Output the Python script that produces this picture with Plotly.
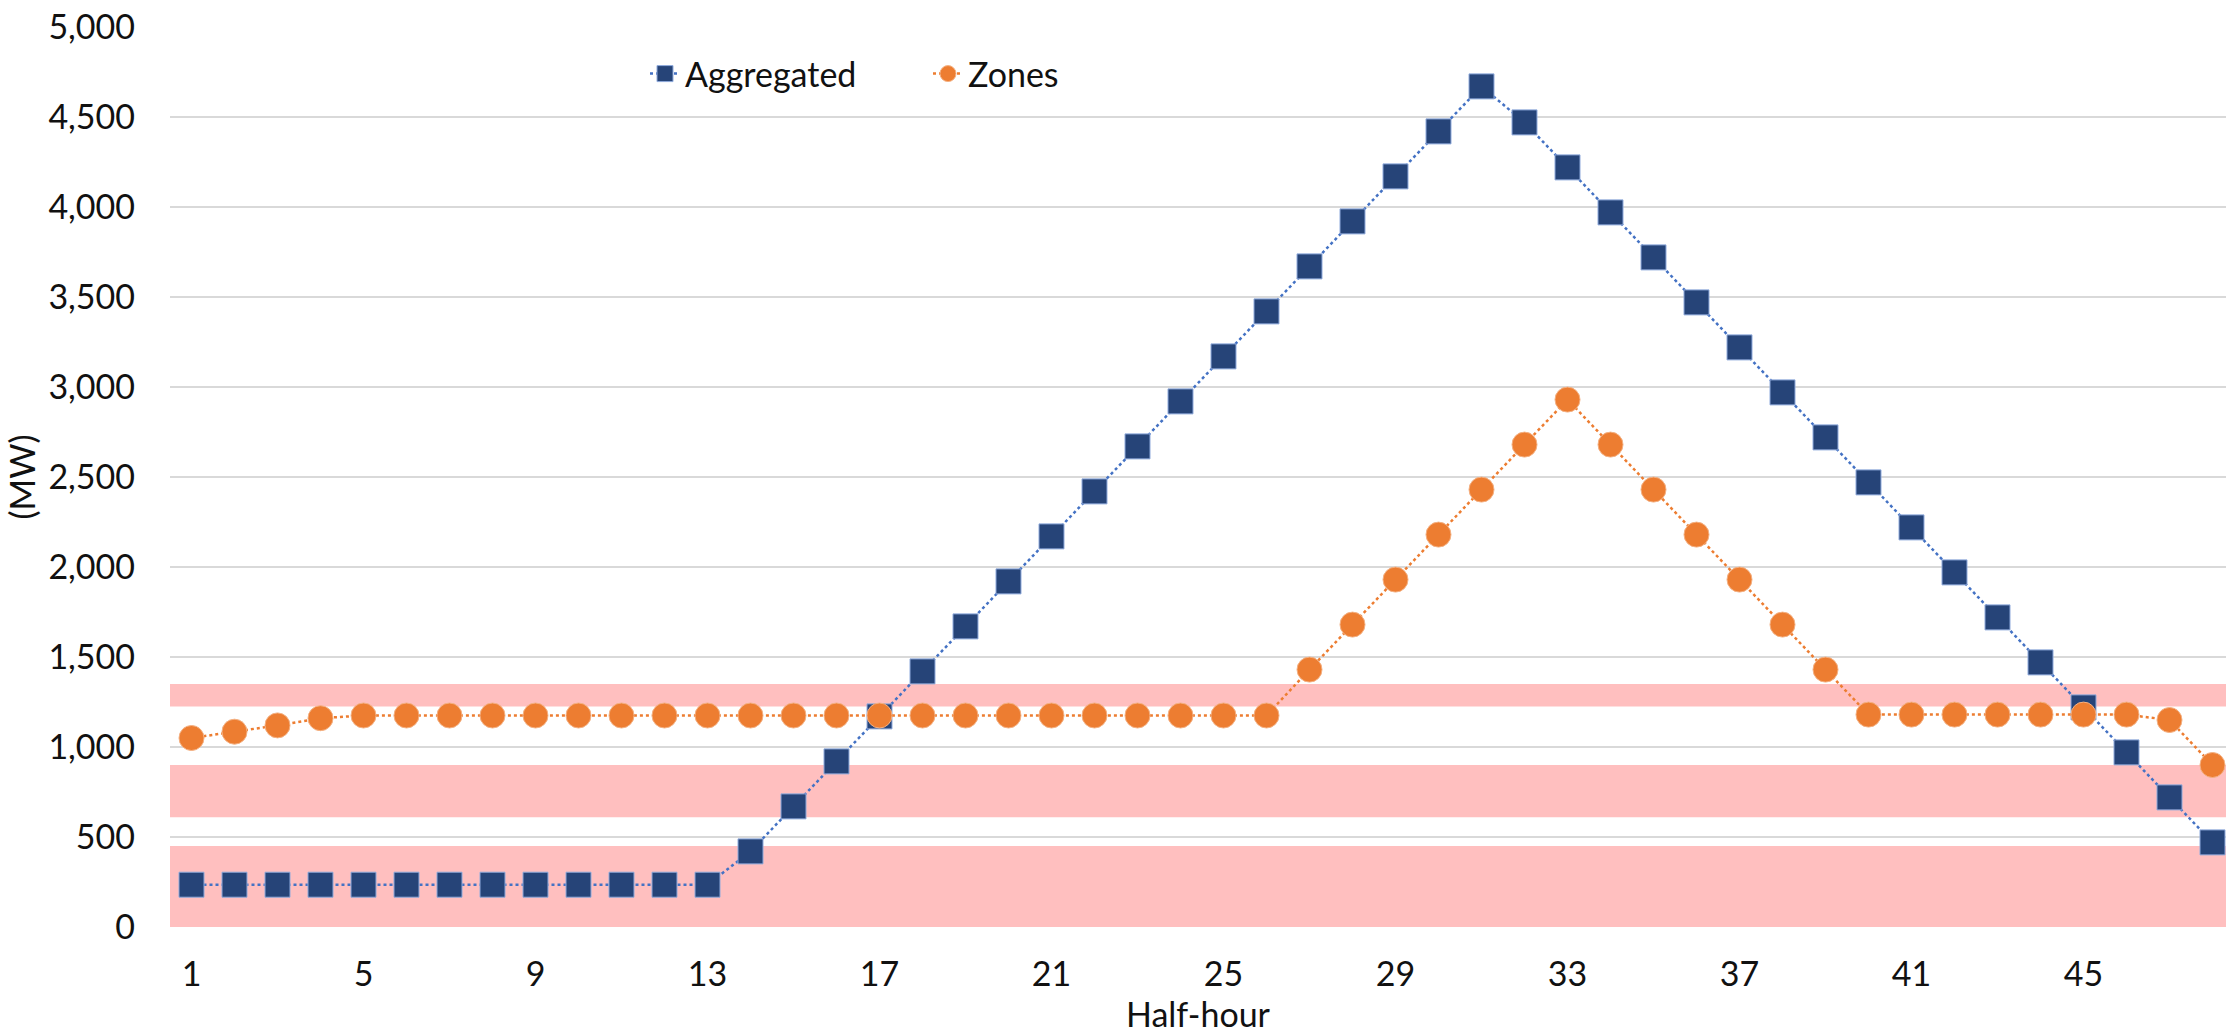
import plotly.graph_objects as go

half_hours = list(range(1, 49))
aggregated = [235]*13 + [420, 670, 920, 1170, 1420, 1670, 1920, 2170, 2420, 2670, 2920,
              3170, 3420, 3670, 3920, 4170, 4420, 4670, 4470, 4220, 3970, 3720, 3470,
              3220, 2970, 2720, 2470, 2220, 1970, 1720, 1470, 1220, 970, 720, 470]
zones = [1050, 1085, 1120, 1160] + [1175]*22 + [1430, 1680, 1930, 2180, 2430, 2680, 2930,
         2680, 2430, 2180, 1930, 1680, 1430] + [1180]*7 + [1150, 900]
bands = [(0, 450), (610, 900), (1225, 1350)]
x_ticks = list(range(1, 49, 4))
y_ticks = list(range(0, 5001, 500))

FONT = "Lato"
FS = 34
W, H = 2226, 1036
ML, MR, MT, MB = 170, 0, 27, 109
cat_px = 43.0
x_max = 0.5 + (W - ML - MR) / cat_px

fig = go.Figure()
fig.add_trace(go.Scatter(
    x=half_hours, y=aggregated, name="Aggregated", mode="lines+markers",
    line=dict(color="#4472C4", width=2.5, dash="dot"),
    marker=dict(symbol="square", size=25, color="#264478",
                line=dict(color="#8FAADC", width=1)),
))
fig.add_trace(go.Scatter(
    x=half_hours, y=zones, name="Zones", mode="lines+markers",
    line=dict(color="#ED7D31", width=2.5, dash="dot"),
    marker=dict(symbol="circle", size=25, color="#ED7D31",
                line=dict(color="#F4B183", width=1)),
))

for lo, hi in bands:
    fig.add_shape(type="rect", xref="paper", yref="y", x0=0, x1=1, y0=lo, y1=hi,
                  fillcolor="#FFBFBF", line=dict(width=0), layer="below")

fig.update_layout(
    width=W, height=H,
    margin=dict(l=ML, r=MR, t=MT, b=MB, pad=0),
    plot_bgcolor="white", paper_bgcolor="white",
    font=dict(family=FONT, size=FS, color="#111111"),
    showlegend=True,
    legend=dict(orientation="h", x=(645 - ML) / (W - ML - MR), xanchor="left",
                y=(H - MB - 74) / (H - MT - MB), yanchor="middle",
                bgcolor="rgba(0,0,0,0)", font=dict(family=FONT, size=FS, color="#111111"),
                itemwidth=30, entrywidth=238),
    xaxis=dict(range=[0.5, x_max], tickmode="array", tickvals=x_ticks,
               ticktext=[str(t) for t in x_ticks], showgrid=False, zeroline=False,
               showline=False, ticks="", ticklabelstandoff=24,
               title=dict(text="Half-hour", standoff=8, font=dict(family=FONT, size=FS))),
    yaxis=dict(range=[0, 5000], tickmode="array", tickvals=y_ticks,
               ticktext=[f"{v:,}" for v in y_ticks], showgrid=True, gridcolor="#D9D9D9",
               gridwidth=2, zeroline=False, showline=False, ticks="", ticklabelstandoff=34,
               title=dict(text="(MW)", standoff=2, font=dict(family=FONT, size=FS))),
)

fig.write_html("out.html", config={"displayModeBar": False},
               post_script="document.body.style.margin='0';")
